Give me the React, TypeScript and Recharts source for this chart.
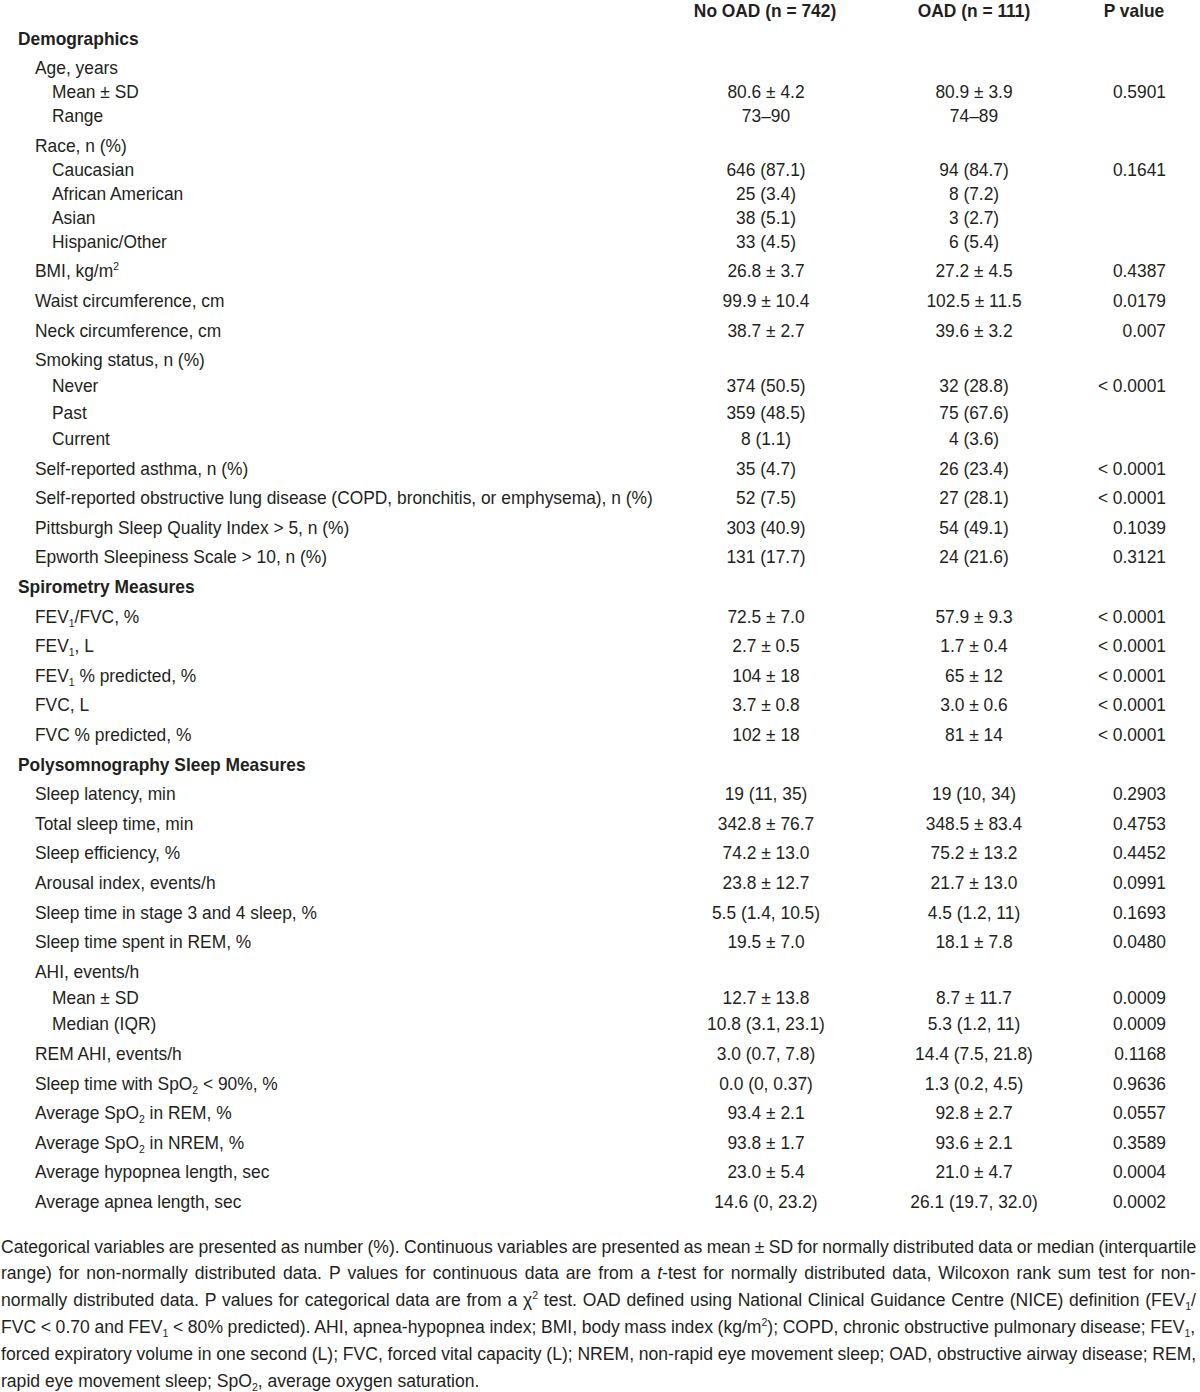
import React from 'react';
import { ScatterChart, Scatter, XAxis, YAxis } from 'recharts';

// ---------------- DATA ----------------
const columnHeaders = ['No OAD (n = 742)', 'OAD (n = 111)', 'P value'];

// level: 0 = section heading, 1 = variable, 2 = sub-category
const rowLevels = [
  0, 1, 2, 2, 1, 2, 2, 2, 2, 1, 1, 1, 1, 2, 2, 2, 1, 1, 1, 1,
  0, 1, 1, 1, 1, 1,
  0, 1, 1, 1, 1, 1, 1, 1, 2, 2, 1, 1, 1, 1, 1, 1,
];

const rowLabels = [
  'Demographics',
  'Age, years',
  'Mean ± SD',
  'Range',
  'Race, n (%)',
  'Caucasian',
  'African American',
  'Asian',
  'Hispanic/Other',
  'BMI, kg/m^{2}',
  'Waist circumference, cm',
  'Neck circumference, cm',
  'Smoking status, n (%)',
  'Never',
  'Past',
  'Current',
  'Self-reported asthma, n (%)',
  'Self-reported obstructive lung disease (COPD, bronchitis, or emphysema), n (%)',
  'Pittsburgh Sleep Quality Index > 5, n (%)',
  'Epworth Sleepiness Scale > 10, n (%)',
  'Spirometry Measures',
  'FEV_{1}/FVC, %',
  'FEV_{1}, L',
  'FEV_{1} % predicted, %',
  'FVC, L',
  'FVC % predicted, %',
  'Polysomnography Sleep Measures',
  'Sleep latency, min',
  'Total sleep time, min',
  'Sleep efficiency, %',
  'Arousal index, events/h',
  'Sleep time in stage 3 and 4 sleep, %',
  'Sleep time spent in REM, %',
  'AHI, events/h',
  'Mean ± SD',
  'Median (IQR)',
  'REM AHI, events/h',
  'Sleep time with SpO_{2} < 90%, %',
  'Average SpO_{2} in REM, %',
  'Average SpO_{2} in NREM, %',
  'Average hypopnea length, sec',
  'Average apnea length, sec',
];

const noOadValues = [
  '', '', '80.6 ± 4.2', '73–90', '', '646 (87.1)', '25 (3.4)', '38 (5.1)', '33 (4.5)',
  '26.8 ± 3.7', '99.9 ± 10.4', '38.7 ± 2.7', '', '374 (50.5)', '359 (48.5)', '8 (1.1)',
  '35 (4.7)', '52 (7.5)', '303 (40.9)', '131 (17.7)',
  '', '72.5 ± 7.0', '2.7 ± 0.5', '104 ± 18', '3.7 ± 0.8', '102 ± 18',
  '', '19 (11, 35)', '342.8 ± 76.7', '74.2 ± 13.0', '23.8 ± 12.7', '5.5 (1.4, 10.5)',
  '19.5 ± 7.0', '', '12.7 ± 13.8', '10.8 (3.1, 23.1)', '3.0 (0.7, 7.8)', '0.0 (0, 0.37)',
  '93.4 ± 2.1', '93.8 ± 1.7', '23.0 ± 5.4', '14.6 (0, 23.2)',
];

const oadValues = [
  '', '', '80.9 ± 3.9', '74–89', '', '94 (84.7)', '8 (7.2)', '3 (2.7)', '6 (5.4)',
  '27.2 ± 4.5', '102.5 ± 11.5', '39.6 ± 3.2', '', '32 (28.8)', '75 (67.6)', '4 (3.6)',
  '26 (23.4)', '27 (28.1)', '54 (49.1)', '24 (21.6)',
  '', '57.9 ± 9.3', '1.7 ± 0.4', '65 ± 12', '3.0 ± 0.6', '81 ± 14',
  '', '19 (10, 34)', '348.5 ± 83.4', '75.2 ± 13.2', '21.7 ± 13.0', '4.5 (1.2, 11)',
  '18.1 ± 7.8', '', '8.7 ± 11.7', '5.3 (1.2, 11)', '14.4 (7.5, 21.8)', '1.3 (0.2, 4.5)',
  '92.8 ± 2.7', '93.6 ± 2.1', '21.0 ± 4.7', '26.1 (19.7, 32.0)',
];

const pValues = [
  '', '', '0.5901', '', '', '0.1641', '', '', '',
  '0.4387', '0.0179', '0.007', '', '< 0.0001', '', '',
  '< 0.0001', '< 0.0001', '0.1039', '0.3121',
  '', '< 0.0001', '< 0.0001', '< 0.0001', '< 0.0001', '< 0.0001',
  '', '0.2903', '0.4753', '0.4452', '0.0991', '0.1693',
  '0.0480', '', '0.0009', '0.0009', '0.1168', '0.9636',
  '0.0557', '0.3589', '0.0004', '0.0002',
];

const footnoteLines = [
  'Categorical variables are presented as number (%). Continuous variables are presented as mean ± SD for normally distributed data or median (interquartile',
  'range) for non-normally distributed data. P values for continuous data are from a *{t}-test for normally distributed data, Wilcoxon rank sum test for non-',
  'normally distributed data. P values for categorical data are from a χ^{2} test. OAD defined using National Clinical Guidance Centre (NICE) definition (FEV_{1}/',
  'FVC < 0.70 and FEV_{1} < 80% predicted). AHI, apnea-hypopnea index; BMI, body mass index (kg/m^{2}); COPD, chronic obstructive pulmonary disease; FEV_{1},',
  'forced expiratory volume in one second (L); FVC, forced vital capacity (L); NREM, non-rapid eye movement sleep; OAD, obstructive airway disease; REM,',
  'rapid eye movement sleep; SpO_{2}, average oxygen saturation.',
];

// ---------------- LAYOUT / STYLE ----------------
const W = 1200;
const H = 1392;
const FONT = '"Liberation Sans", Arial, Helvetica, sans-serif';
const FS = 18.2;
const SX = 0.955;
const FOOT_FS = 18.5;
const FOOT_SX = 0.95;
const INK = '#231f20';

const headerY = 10;
const firstRowY = 38;
const mainStep = 29.6;
const tightSub = 24;
const looseSub = 26.3;
const indentX = [18, 35, 52];
const colCenters = [766, 974];
const pRight = 1166;
const headerCenters = [765, 974, 1134];
const footTop = 1246;
const footStep = 26.8;
const footLeft = 1;
const footRight = 1197;

type Seg = { t: string; k: 'n' | 'sub' | 'sup' | 'it' };

function parse(s: string): Seg[] {
  const out: Seg[] = [];
  const re = /_\{([^}]*)\}|\^\{([^}]*)\}|\*\{([^}]*)\}/g;
  let last = 0;
  let m: RegExpExecArray | null;
  while ((m = re.exec(s))) {
    if (m.index > last) out.push({ t: s.slice(last, m.index), k: 'n' });
    if (m[1] !== undefined) out.push({ t: m[1], k: 'sub' });
    else if (m[2] !== undefined) out.push({ t: m[2], k: 'sup' });
    else out.push({ t: m[3], k: 'it' });
    last = re.lastIndex;
  }
  if (last < s.length) out.push({ t: s.slice(last), k: 'n' });
  return out;
}

function segSize(k: Seg['k'], fs: number) {
  return k === 'sub' || k === 'sup' ? fs * 0.6 : fs;
}

let canvasCtx: CanvasRenderingContext2D | null = null;
function measure(segs: Seg[], fs: number, weight = 'normal') {
  if (!canvasCtx) {
    const c = document.createElement('canvas');
    canvasCtx = c.getContext('2d');
  }
  const ctx = canvasCtx!;
  let w = 0;
  segs.forEach((sg) => {
    const style = sg.k === 'it' ? 'italic ' : '';
    ctx.font = `${style}${weight} ${segSize(sg.k, fs)}px ${FONT}`;
    w += ctx.measureText(sg.t).width;
  });
  return w;
}

function renderTspans(segs: Seg[], fs: number) {
  let shift = 0;
  return segs.map((sg, i) => {
    let target = 0;
    if (sg.k === 'sub') target = fs * 0.22;
    if (sg.k === 'sup') target = -fs * 0.38;
    const dy = target - shift;
    shift = target;
    return (
      <tspan
        key={i}
        dy={dy !== 0 ? dy : undefined}
        fontSize={segSize(sg.k, fs)}
        fontStyle={sg.k === 'it' ? 'italic' : 'normal'}
      >
        {sg.t}
      </tspan>
    );
  });
}

type Cell = {
  x: number;
  y: number;
  text: string;
  anchor: 'start' | 'middle' | 'end';
  bold: boolean;
  fs: number;
  sx: number;
  justify?: number;
};

function buildCells(): Cell[] {
  const cells: Cell[] = [];
  columnHeaders.forEach((h, i) => {
    cells.push({ x: headerCenters[i], y: headerY, text: h, anchor: 'middle', bold: true, fs: FS, sx: SX });
  });
  let y = firstRowY;
  let parentLabel = '';
  rowLabels.forEach((label, i) => {
    const lvl = rowLevels[i];
    if (i > 0) {
      if (lvl === 2) {
        y += parentLabel === 'Age, years' || parentLabel === 'Race, n (%)' ? tightSub : looseSub;
      } else {
        y += mainStep;
      }
    }
    if (lvl === 1) parentLabel = label;
    cells.push({ x: indentX[lvl], y, text: label, anchor: 'start', bold: lvl === 0, fs: FS, sx: SX });
    if (noOadValues[i]) cells.push({ x: colCenters[0], y, text: noOadValues[i], anchor: 'middle', bold: false, fs: FS, sx: SX });
    if (oadValues[i]) cells.push({ x: colCenters[1], y, text: oadValues[i], anchor: 'middle', bold: false, fs: FS, sx: SX });
    if (pValues[i]) cells.push({ x: pRight, y, text: pValues[i], anchor: 'end', bold: false, fs: FS, sx: SX });
  });
  footnoteLines.forEach((line, i) => {
    cells.push({
      x: footLeft,
      y: footTop + i * footStep,
      text: line,
      anchor: 'start',
      bold: false,
      fs: FOOT_FS,
      sx: FOOT_SX,
      justify: i < footnoteLines.length - 1 ? footRight - footLeft : undefined,
    });
  });
  return cells;
}

const cells = buildCells();

const CellShape = (props: any) => {
  const { cx, cy, payload } = props;
  const c: Cell = payload;
  const segs = parse(c.text);
  let wordSpacing: number | undefined;
  if (c.justify) {
    const natural = measure(segs, c.fs, c.bold ? 'bold' : 'normal');
    const spaces = segs.reduce((n, s) => n + (s.t.match(/ /g) || []).length, 0);
    if (spaces > 0) wordSpacing = (c.justify / c.sx - natural) / spaces;
  }
  return (
    <text
      x={0}
      y={0}
      transform={`translate(${cx},${cy + c.fs * 0.36}) scale(${c.sx},1)`}
      textAnchor={c.anchor}
      fontFamily={FONT}
      fontSize={c.fs}
      fontWeight={c.bold ? 'bold' : 'normal'}
      fill={INK}
      style={{ whiteSpace: 'pre', wordSpacing: wordSpacing !== undefined ? `${wordSpacing}px` : undefined }}
    >
      {renderTspans(segs, c.fs)}
    </text>
  );
};

export default function App() {
  return (
    <div style={{ position: 'absolute', left: 0, top: 0, width: W, height: H, background: '#fff' }}>
      <ScatterChart width={W} height={H} margin={{ top: 0, right: 0, bottom: 0, left: 0 }}>
        <XAxis type="number" dataKey="x" domain={[0, W]} allowDataOverflow hide />
        <YAxis type="number" dataKey="y" domain={[0, H]} allowDataOverflow reversed hide />
        <Scatter data={cells} shape={CellShape} isAnimationActive={false} />
      </ScatterChart>
    </div>
  );
}
